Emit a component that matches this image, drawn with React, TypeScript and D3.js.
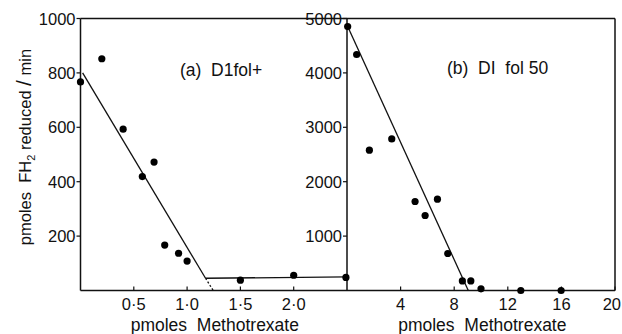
import React from 'react';
import * as d3 from 'd3';

// panel (a) D1fol+
const aDose = [0.0, 0.2, 0.4, 0.58, 0.69, 0.79, 0.92, 1.0, 1.5, 2.0, 2.49];
const aRate = [767, 852, 593, 419, 472, 167, 137, 108, 38, 56, 48];
const aFitDown = [[0.02, 800], [1.173, 45]];
const aFitFlat = [[1.173, 45], [2.5, 50]];
const aFitExtra = [[1.173, 45], [1.245, 0]];
const aTicksX = [0.5, 1.0, 1.5, 2.0];
const aTicksY = [200, 400, 600, 800, 1000];

// panel (b) DI fol 50
const bDose = [0.05, 0.72, 1.67, 3.34, 5.08, 5.83, 6.75, 7.52, 8.61, 9.24, 10.0, 12.97, 15.98];
const bRate = [4853, 4338, 2579, 2787, 1636, 1379, 1678, 680, 176, 176, 30, 0, 0];
const bFit = [[0, 4880], [9.05, 0]];
const bTicksX = [4, 8, 12, 16, 20];
const bTicksY = [1000, 2000, 3000, 4000, 5000];

const W = 622, H = 334;
const top = 18.5, bottom = 290.5;
const font = '"Liberation Sans", Arial, Helvetica, sans-serif';

export default function App() {
  const xa = d3.scaleLinear().domain([0, 2.5]).range([80.5, 347]);
  const ya = d3.scaleLinear().domain([0, 1000]).range([bottom, top]);
  const xb = d3.scaleLinear().domain([0, 20]).range([347, 615]);
  const yb = d3.scaleLinear().domain([0, 5000]).range([bottom, top]);

  const la = d3.line<number[]>().x(d => xa(d[0])).y(d => ya(d[1]));
  const lb = d3.line<number[]>().x(d => xb(d[0])).y(d => yb(d[1]));
  const fmtA = (v: number) => d3.format('.1f')(v).replace('.', '·');

  return (
    <svg width={W} height={H} style={{ position: 'absolute', left: 0, top: 0, background: '#fff', whiteSpace: 'pre' }}
      fontFamily={font} fill="#111">
      {/* frame */}
      <g stroke="#111" strokeWidth={1.5} fill="none">
        <line x1={xa(0)} x2={xb(20)} y1={top} y2={top} />
        <line x1={xa(0)} x2={xb(20)} y1={bottom} y2={bottom} />
        <line x1={xa(0)} x2={xa(0)} y1={top} y2={bottom} />
        <line x1={xb(0)} x2={xb(0)} y1={top} y2={bottom} />
        <line x1={xb(20)} x2={xb(20)} y1={top} y2={bottom} />
      </g>

      {/* ticks */}
      <g stroke="#111" strokeWidth={1.2}>
        {aTicksY.map(t => <line key={'ay' + t} x1={xa(0) - 4} x2={xa(0)} y1={ya(t)} y2={ya(t)} />)}
        {aTicksX.map(t => <line key={'ax' + t} x1={xa(t)} x2={xa(t)} y1={bottom} y2={bottom - 4} />)}
        {bTicksY.map(t => <line key={'by' + t} x1={xb(0) - 4} x2={xb(0)} y1={yb(t)} y2={yb(t)} />)}
        {bTicksX.map(t => <line key={'bx' + t} x1={xb(t)} x2={xb(t)} y1={bottom} y2={bottom - 4} />)}
      </g>
      <g fontSize={16.5} textAnchor="end">
        {aTicksY.map(t => <text key={'lay' + t} x={xa(0) - 5} y={ya(t) + 6}>{t}</text>)}
        {bTicksY.map(t => <text key={'lby' + t} x={xb(0) - 5} y={yb(t) + 6}>{t}</text>)}
      </g>
      <g fontSize={16.5} textAnchor="middle">
        {aTicksX.map(t => <text key={'lax' + t} x={xa(t)} y={310}>{fmtA(t)}</text>)}
        {bTicksX.map(t => (
          <text key={'lbx' + t} x={t === 20 ? W - 1 : xb(t)} y={310} textAnchor={t === 20 ? 'end' : 'middle'}>{t}</text>
        ))}
      </g>

      {/* axis titles */}
      <g fontSize={17.5} textAnchor="middle">
        <text x={xa(1.26)} y={331} xmlSpace="preserve">pmoles  Methotrexate</text>
        <text x={xb(10.1)} y={331} xmlSpace="preserve">pmoles  Methotrexate</text>
      </g>
      <text transform="translate(31,147) rotate(-90)" fontSize={16.5} textAnchor="middle" xmlSpace="preserve">
        pmoles  FH<tspan fontSize={11} dy={4}>2</tspan><tspan dy={-4}> reduced </tspan><tspan fontSize={21}>/</tspan><tspan> min</tspan>
      </text>

      {/* panel titles */}
      <g fontSize={17.5}>
        <text x={180} y={76} xmlSpace="preserve">(a)  D1fol+</text>
        <text x={447} y={74} xmlSpace="preserve">(b)  DI  fol 50</text>
      </g>

      {/* fitted lines */}
      <g stroke="#111" strokeWidth={1.3} fill="none">
        <path d={la(aFitDown) || ''} />
        <path d={la(aFitFlat) || ''} />
        <path d={la(aFitExtra) || ''} strokeDasharray="2,2" />
        <path d={lb(bFit) || ''} />
      </g>

      {/* points */}
      <g fill="#000">
        {aDose.map((d, i) => <circle key={'pa' + i} cx={xa(d)} cy={ya(aRate[i])} r={3.6} />)}
        {bDose.map((d, i) => <circle key={'pb' + i} cx={xb(d)} cy={yb(bRate[i])} r={3.6} />)}
      </g>
    </svg>
  );
}
